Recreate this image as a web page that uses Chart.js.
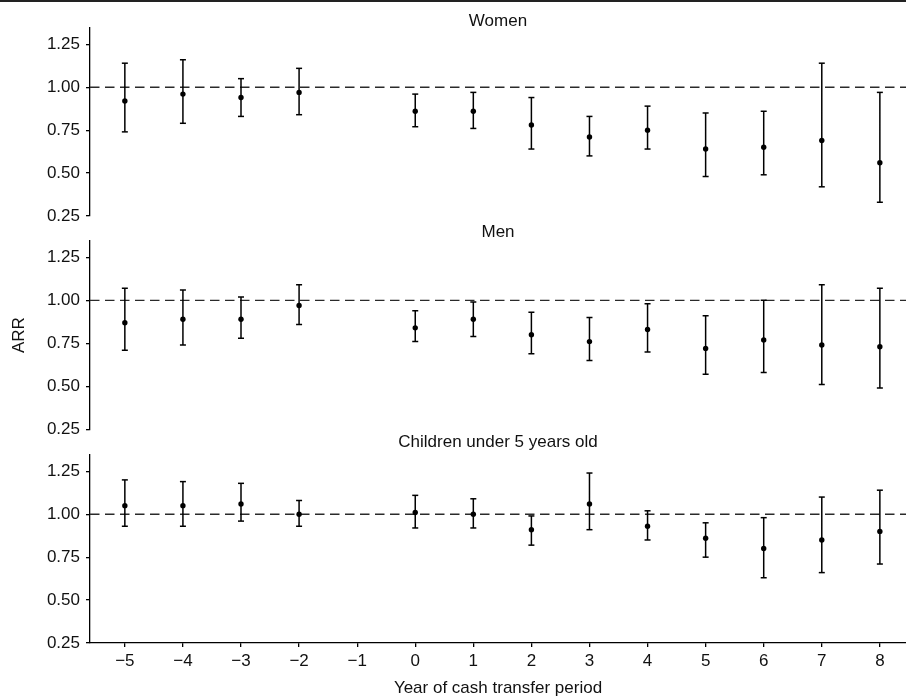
<!DOCTYPE html>
<html>
<head>
<meta charset="utf-8">
<script src="https://cdn.jsdelivr.net/npm/chart.js@4/dist/chart.umd.min.js"></script>
<style>
  body { margin: 0; background: #fff; }
  #wrap { position: relative; width: 906px; height: 699px; overflow: hidden; }
  #wrap canvas { position: absolute; left: 0; }
  #topRule { position: absolute; left: 0; top: 0; width: 906px; height: 2px; background: #222; }
</style>
</head>
<body>
<div id="wrap">
  <canvas id="women" width="906" height="235" style="top:0px"></canvas>
  <canvas id="men" width="906" height="230" style="top:220px"></canvas>
  <canvas id="children" width="906" height="269" style="top:430px"></canvas>
  <div id="topRule"></div>
</div>
<script>
// ARR by year of cash transfer period (point estimate + 95% CI)
const years = [-5, -4, -3, -2, 0, 1, 2, 3, 4, 5, 6, 7, 8];
const xTicks = [-5, -4, -3, -2, -1, 0, 1, 2, 3, 4, 5, 6, 7, 8];
const yTicks = [0.25, 0.5, 0.75, 1.0, 1.25];

const womenArr = [0.92, 0.96, 0.94, 0.97, 0.86, 0.86, 0.78, 0.71, 0.75, 0.64, 0.65, 0.69, 0.56];
const womenLo  = [0.74, 0.79, 0.83, 0.84, 0.77, 0.76, 0.64, 0.60, 0.64, 0.48, 0.49, 0.42, 0.33];
const womenHi  = [1.14, 1.16, 1.05, 1.11, 0.96, 0.97, 0.94, 0.83, 0.89, 0.85, 0.86, 1.14, 0.97];

const menArr = [0.87, 0.89, 0.89, 0.97, 0.84, 0.89, 0.80, 0.76, 0.83, 0.72, 0.77, 0.74, 0.73];
const menLo  = [0.71, 0.74, 0.78, 0.86, 0.76, 0.79, 0.69, 0.65, 0.70, 0.57, 0.58, 0.51, 0.49];
const menHi  = [1.07, 1.06, 1.02, 1.09, 0.94, 0.99, 0.93, 0.90, 0.98, 0.91, 1.00, 1.09, 1.07];

const childArr = [1.05, 1.05, 1.06, 1.00, 1.01, 1.00, 0.91, 1.06, 0.93, 0.86, 0.80, 0.85, 0.90];
const childLo  = [0.93, 0.93, 0.96, 0.93, 0.92, 0.92, 0.82, 0.91, 0.85, 0.75, 0.63, 0.66, 0.71];
const childHi  = [1.20, 1.19, 1.18, 1.08, 1.11, 1.09, 0.99, 1.24, 1.02, 0.95, 0.98, 1.10, 1.14];

const REF_LINE = 1.0;
const X_MIN = -5.6, X_MAX = 8.45;
const Y_MIN = 0.25, Y_MAX = 1.345;

Chart.defaults.font.family = '"Liberation Sans", Arial, Helvetica, sans-serif';
Chart.defaults.font.size = 17;
Chart.defaults.color = '#111';

const INK = '#000';

function fmtX(v) {
  return v < 0 ? '\u2212' + Math.abs(v) : String(v);
}

function makeDatasets(mid, lo, hi) {
  const whiskers = [];
  const caps = [];
  years.forEach((x, i) => {
    whiskers.push({ x: x, y: lo[i] }, { x: x, y: hi[i] }, { x: x, y: null });
    caps.push({ x: x, y: lo[i] }, { x: x, y: hi[i] });
  });
  return [
    {
      type: 'line',
      data: [{ x: X_MIN, y: REF_LINE }, { x: X_MAX, y: REF_LINE }],
      borderColor: '#2a2a2a',
      borderWidth: 1.3,
      borderDash: [9.5, 5.5],
      pointRadius: 0,
      showLine: true,
      order: 4
    },
    {
      type: 'line',
      data: whiskers,
      borderColor: INK,
      borderWidth: 1.5,
      pointRadius: 0,
      spanGaps: false,
      showLine: true,
      order: 3
    },
    {
      type: 'scatter',
      data: caps,
      pointStyle: 'line',
      pointRadius: 3,
      borderColor: INK,
      pointBorderWidth: 1.5,
      order: 2
    },
    {
      type: 'scatter',
      data: years.map((x, i) => ({ x: x, y: mid[i] })),
      pointRadius: 2.7,
      backgroundColor: INK,
      borderColor: INK,
      borderWidth: 0,
      order: 1
    }
  ];
}

function yScale(showTitle) {
  return {
    type: 'linear',
    min: Y_MIN,
    max: Y_MAX,
    afterBuildTicks: (s) => { s.ticks = yTicks.map(v => ({ value: v })); },
    afterFit: (s) => { s.width = 90; },
    ticks: { padding: 6, color: '#111', callback: (v) => Number(v).toFixed(2) },
    grid: { drawOnChartArea: false, drawTicks: true, tickLength: 4, color: INK, lineWidth: 1.3 },
    border: { display: true, color: INK, width: 1.3 },
    title: { display: showTitle, text: 'ARR', color: '#111', padding: { top: 9, bottom: 0 } }
  };
}

function titleAxis(text, height, padTop) {
  return {
    type: 'linear',
    position: 'top',
    min: X_MIN,
    max: X_MAX,
    afterFit: (s) => { s.height = height; },
    ticks: { display: false },
    grid: { display: false, drawTicks: false },
    border: { display: false },
    title: { display: true, text: text, color: '#111', padding: { top: padTop, bottom: 0 } }
  };
}

function makeChart(id, mid, lo, hi, scales, padBottom) {
  return new Chart(document.getElementById(id), {
    type: 'scatter',
    data: { datasets: makeDatasets(mid, lo, hi) },
    options: {
      responsive: false,
      animation: false,
      events: [],
      layout: { autoPadding: false, padding: { top: 0, left: 0, right: 0, bottom: padBottom } },
      plugins: { legend: { display: false }, tooltip: { enabled: false } },
      scales: scales
    }
  });
}

// Women
makeChart('women', womenArr, womenLo, womenHi, {
  x: titleAxis('Women', 28, 10.8),
  y: yScale(false)
}, 19);

// Men
makeChart('men', menArr, menLo, menHi, {
  x: titleAxis('Men', 21, 2.3),
  y: yScale(true)
}, 20.7);

// Children under 5
makeChart('children', childArr, childLo, childHi, {
  x: {
    type: 'linear',
    position: 'bottom',
    min: X_MIN,
    max: X_MAX,
    afterBuildTicks: (s) => { s.ticks = xTicks.map(v => ({ value: v })); },
    afterFit: (s) => { s.height = 56; },
    ticks: { padding: 4, color: '#111', callback: (v) => fmtX(v) },
    grid: { drawOnChartArea: false, drawTicks: true, tickLength: 4, color: INK, lineWidth: 1.3 },
    border: { display: true, color: INK, width: 1.3 },
    title: { display: true, text: 'Year of cash transfer period', color: '#111', padding: { top: 0, bottom: 0 } }
  },
  xTitle: titleAxis('Children under 5 years old', 25, 2.3),
  y: yScale(false)
}, 0);
</script>
</body>
</html>
